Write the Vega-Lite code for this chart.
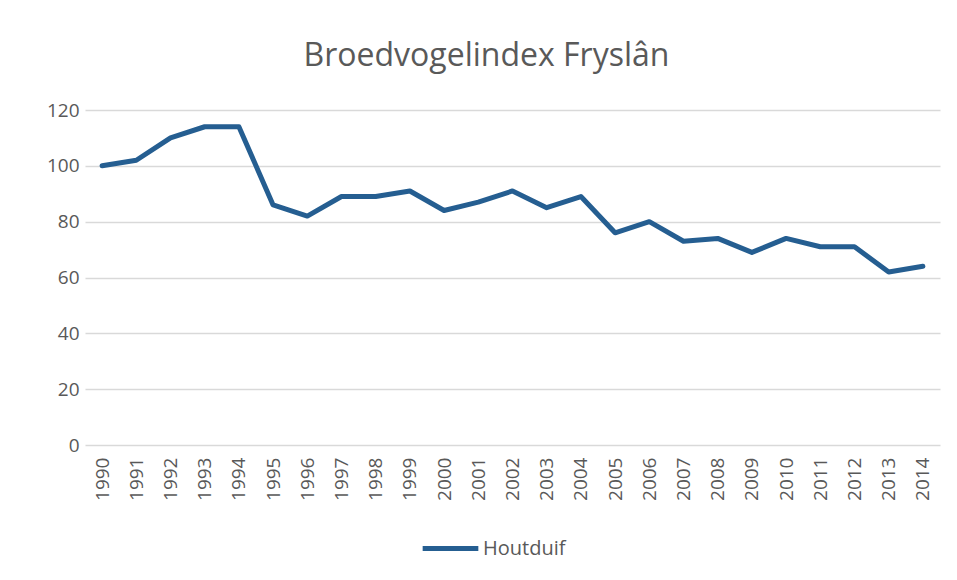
{
  "$schema": "https://vega.github.io/schema/vega-lite/v6.json",
  "width": 855,
  "height": 335,
  "autosize": {"type": "none"},
  "padding": {"left": 85, "top": 110, "right": 17, "bottom": 135},
  "background": "white",
  "title": {
    "text": "Broedvogelindex Fryslân",
    "anchor": "middle",
    "frame": "group",
    "fontSize": 32,
    "font": "Open Sans",
    "fontWeight": "normal",
    "color": "#595959",
    "offset": 28,
    "dx": -26
  },
  "data": {
    "values": [
      {"jaar": "1990", "index": 100, "soort": "Houtduif"},
      {"jaar": "1991", "index": 102, "soort": "Houtduif"},
      {"jaar": "1992", "index": 110, "soort": "Houtduif"},
      {"jaar": "1993", "index": 114, "soort": "Houtduif"},
      {"jaar": "1994", "index": 114, "soort": "Houtduif"},
      {"jaar": "1995", "index": 86, "soort": "Houtduif"},
      {"jaar": "1996", "index": 82, "soort": "Houtduif"},
      {"jaar": "1997", "index": 89, "soort": "Houtduif"},
      {"jaar": "1998", "index": 89, "soort": "Houtduif"},
      {"jaar": "1999", "index": 91, "soort": "Houtduif"},
      {"jaar": "2000", "index": 84, "soort": "Houtduif"},
      {"jaar": "2001", "index": 87, "soort": "Houtduif"},
      {"jaar": "2002", "index": 91, "soort": "Houtduif"},
      {"jaar": "2003", "index": 85, "soort": "Houtduif"},
      {"jaar": "2004", "index": 89, "soort": "Houtduif"},
      {"jaar": "2005", "index": 76, "soort": "Houtduif"},
      {"jaar": "2006", "index": 80, "soort": "Houtduif"},
      {"jaar": "2007", "index": 73, "soort": "Houtduif"},
      {"jaar": "2008", "index": 74, "soort": "Houtduif"},
      {"jaar": "2009", "index": 69, "soort": "Houtduif"},
      {"jaar": "2010", "index": 74, "soort": "Houtduif"},
      {"jaar": "2011", "index": 71, "soort": "Houtduif"},
      {"jaar": "2012", "index": 71, "soort": "Houtduif"},
      {"jaar": "2013", "index": 62, "soort": "Houtduif"},
      {"jaar": "2014", "index": 64, "soort": "Houtduif"}
    ]
  },
  "mark": {"type": "line", "strokeWidth": 5, "strokeJoin": "round", "strokeCap": "round"},
  "encoding": {
    "x": {
      "field": "jaar",
      "type": "ordinal",
      "scale": {"type": "point", "padding": 0.5},
      "axis": {
        "title": null,
        "labelAngle": -90,
        "labelPadding": 12,
        "ticks": false,
        "domain": false,
        "labelFont": "Open Sans",
        "labelFontSize": 19,
        "labelColor": "#595959"
      }
    },
    "y": {
      "field": "index",
      "type": "quantitative",
      "scale": {"domain": [0, 120], "nice": false},
      "axis": {
        "title": null,
        "values": [0, 20, 40, 60, 80, 100, 120],
        "ticks": false,
        "domain": false,
        "gridColor": "#d9d9d9",
        "gridWidth": 1.5,
        "labelPadding": 6,
        "labelFont": "Open Sans",
        "labelFontSize": 19,
        "labelColor": "#595959"
      }
    },
    "color": {
      "field": "soort",
      "type": "nominal",
      "scale": {"range": ["#255E91"]},
      "legend": {
        "title": null,
        "orient": "none",
        "legendX": 335,
        "legendY": 408,
        "direction": "horizontal",
        "symbolType": "stroke",
        "symbolStrokeWidth": 5,
        "symbolSize": 3100,
        "labelFont": "Open Sans",
        "labelFontSize": 20,
        "labelColor": "#595959",
        "labelOffset": 2
      }
    }
  },
  "config": {
    "view": {"stroke": null}
  }
}
